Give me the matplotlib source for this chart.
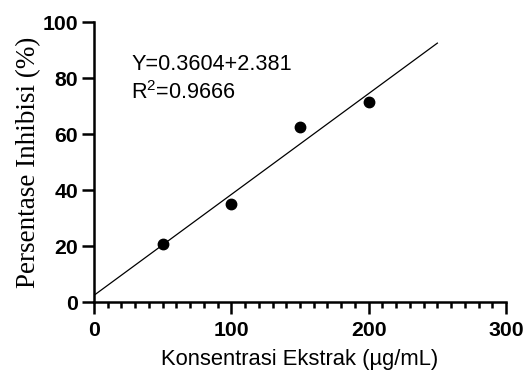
import matplotlib
matplotlib.use("Agg")
import matplotlib.pyplot as plt
from matplotlib.ticker import MultipleLocator

plt.rcParams["mathtext.fontset"] = "custom"
plt.rcParams["mathtext.rm"] = "Liberation Sans"
plt.rcParams["mathtext.it"] = "Liberation Sans:italic"
plt.rcParams["mathtext.bf"] = "Liberation Sans:bold"

# Data
konsentrasi = [50, 100, 150, 200]
inhibisi = [20.7, 34.9, 62.4, 71.4]
slope = 0.3604
intercept = 2.381
fit_x = [0, 250]
fit_y = [slope * x + intercept for x in fit_x]

x_ticks = [0, 100, 200, 300]
y_ticks = [0, 20, 40, 60, 80, 100]

fig = plt.figure(figsize=(5.31, 3.74), dpi=100)
ax = fig.add_axes([0.177, 0.1925, 0.776, 0.7485])

ax.plot(fit_x, fit_y, color="black", linewidth=0.9, zorder=2)
ax.plot(konsentrasi, inhibisi, "o", color="black", markersize=7.5, zorder=3)

ax.set_xlim(0, 300)
ax.set_ylim(0, 100)
ax.set_xticks(x_ticks)
ax.set_yticks(y_ticks)
ax.xaxis.set_minor_locator(MultipleLocator(10))

for s in ["top", "right"]:
    ax.spines[s].set_visible(False)
for s in ["left", "bottom"]:
    ax.spines[s].set_linewidth(1.8)

ax.tick_params(axis="both", which="major", length=8.5, width=1.8,
               labelsize=15.3)
ax.tick_params(axis="x", which="major", pad=5.5)
ax.tick_params(axis="y", which="major", pad=3)
ax.tick_params(axis="x", which="minor", length=4.5, width=1.8)
for lab in ax.get_xticklabels() + ax.get_yticklabels():
    lab.set_fontfamily("Liberation Sans")
    lab.set_fontweight("bold")

ax.set_xlabel("Konsentrasi Ekstrak (µg/mL)", fontsize=15.8,
              fontfamily="Liberation Sans", labelpad=6.5)
ax.set_ylabel("Persentase Inhibisi (%)", fontsize=19.5,
              fontfamily="Liberation Serif", labelpad=1)

ax.text(0.09, 0.83, "Y=0.3604+2.381", transform=ax.transAxes, fontsize=15.6,
        fontfamily="Liberation Sans", va="baseline", ha="left")
ax.text(0.09, 0.725, "R$^2$=0.9666", transform=ax.transAxes, fontsize=15.6,
        fontfamily="Liberation Sans", va="baseline", ha="left")

fig.savefig("out.png", dpi=100)
